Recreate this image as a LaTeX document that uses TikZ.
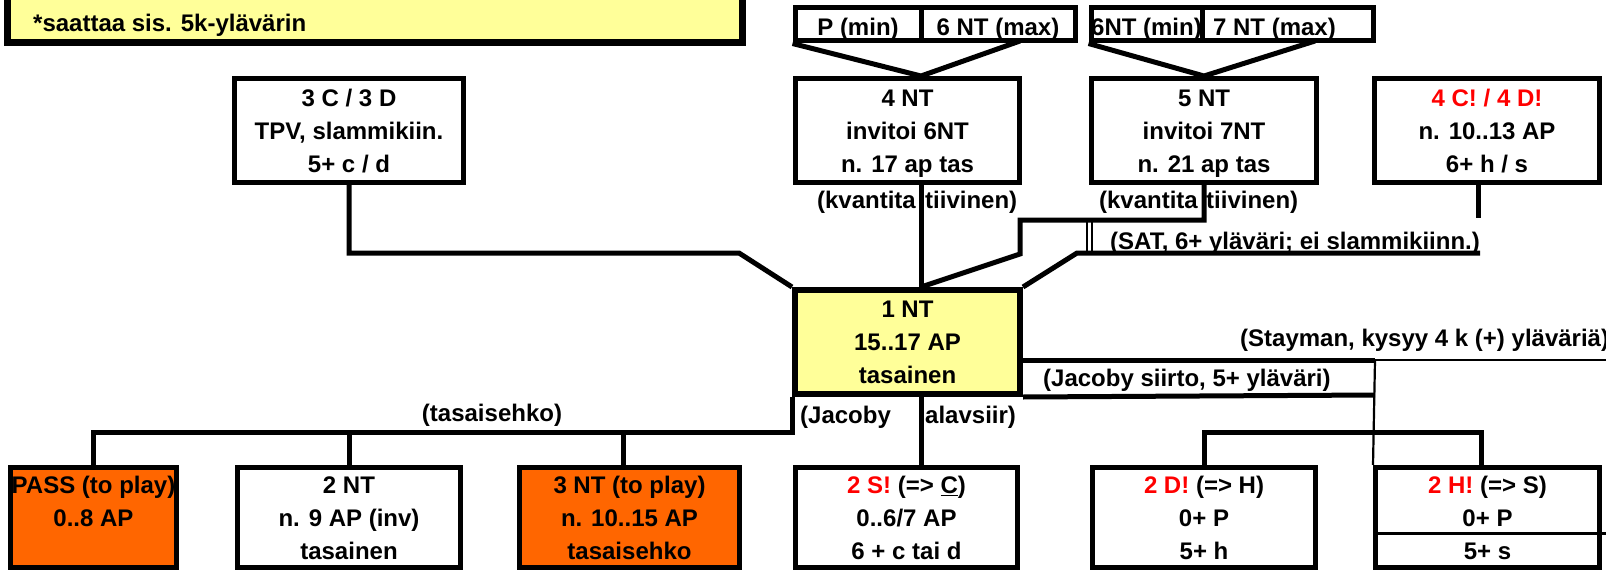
\documentclass[tikz,border=0pt]{standalone}
\usepackage{fontspec}
\setmainfont{Liberation Sans}
\usetikzlibrary{calc}
\definecolor{ylw}{HTML}{FFFF99}
\definecolor{org}{HTML}{FF6600}
\definecolor{rd}{HTML}{FF0000}
\newcommand\ls{\rule[-7.9pt]{0pt}{33pt}}
\newcommand\lt{\rule[-5pt]{0pt}{33pt}}
\begin{document}
\begin{tikzpicture}[x=1pt,y=-1pt,line join=miter,
  box/.style={draw,line width=5pt,inner sep=0pt,align=center,font=\bfseries\fontsize{24}{33}\selectfont},
  lbl/.style={inner sep=0pt,font=\bfseries\fontsize{24}{33}\selectfont},
  conn/.style={line width=5pt},
  thinl/.style={line width=1.8pt}]
\useasboundingbox (0,0) rectangle (1606,575);
\fill[white] (0,0) rectangle (1606,575);

% top-left note
\node[box,line width=5.5pt,fill=ylw,minimum width=736,minimum height=83] (tl) at (375,1.5) {};
\draw[thinl] ([shift={(5.5,5.5)}]tl.north west) rectangle ([shift={(-5.5,-5.5)}]tl.south east);
\node[lbl,anchor=base west] (tlt) at (33,32) {*saattaa sis. 5k-ylävärin};

% top cells
\node[box,minimum width=126,minimum height=33] (a1) at (858,24.5) {\lt P (min)};
\node[box,minimum width=154,minimum height=33] (a2) at (998,24.5) {\lt 6 NT (max)};
\node[box,minimum width=111,minimum height=33] (b1) at (1146.5,24.5) {\lt 6NT (min)};
\node[box,minimum width=171,minimum height=33] (b2) at (1287.5,24.5) {\lt\hspace*{-26pt}7 NT (max)};

% upper row
\node[box,minimum width=229,minimum height=104] (n3c) at (349,130.5) {\ls 3 C / 3 D\\\ls TPV, slammikiin.\\\ls 5+ c / d};
\node[box,minimum width=224,minimum height=104] (n4) at (907.5,130.5) {\ls 4 NT\\\ls invitoi 6NT\\\ls n. 17 ap tas};
\node[box,minimum width=225,minimum height=104] (n5) at (1204,130.5) {\ls 5 NT\\\ls invitoi 7NT\\\ls n. 21 ap tas};
\node[box,minimum width=225,minimum height=104] (n4c) at (1487,130.5) {\ls\textcolor{rd}{4 C! / 4 D!}\\\ls n. 10..13 AP\\\ls 6+ h / s};

% 1NT
\node[box,fill=ylw,minimum width=226,minimum height=105] (n1) at (907.5,342) {\ls 1 NT\\\ls 15..17 AP\\\ls tasainen};
\draw[thinl] ([shift={(5.5,5.5)}]n1.north west) rectangle ([shift={(-5.5,-5.5)}]n1.south east);

% bottom row
\node[box,fill=org,minimum width=166,minimum height=100] (pass) at (93.5,517.5) {\ls PASS (to play)\\\ls 0..8 AP\\\ls};
\node[box,minimum width=223,minimum height=100] (nt2) at (349,517.5) {\ls 2 NT\\\ls n. 9 AP (inv)\\\ls tasainen};
\node[box,fill=org,minimum width=220,minimum height=100] (nt3) at (629.5,517.5) {\ls 3 NT (to play)\\\ls n. 10..15 AP\\\ls tasaisehko};
\node[box,minimum width=222,minimum height=100] (s2) at (906.5,517.5) {\ls\textcolor{rd}{2 S!} (=> \underline{C})\\\ls 0..6/7 AP\\\ls 6 + c tai d};
\node[box,minimum width=223,minimum height=100] (d2) at (1204,517.5) {\ls\textcolor{rd}{2 D!} (=> H)\\\ls 0+ P\\\ls 5+ h};
\node[box,minimum width=224,minimum height=100] (h2) at (1487.5,517.5) {\ls\textcolor{rd}{2 H!} (=> S)\\\ls 0+ P\\\ls 5+ s};
\coordinate (hl) at (1606,533);
\draw[line width=3pt] (h2.west |- hl) -- (hl);

% coordinates
\coordinate (va) at (921,76);
\coordinate (vb) at (1204,76);
\coordinate (aR) at (1020,41);
\coordinate (bR) at (1315,41);
\coordinate (c3) at (739,253);
\coordinate (k5a) at (1020,220);
\coordinate (k5b) at (1020,254);
\coordinate (k4) at (1478,218);
\coordinate (sa) at (1077,253);
\coordinate (sb) at (1480,253);
\coordinate (st1) at (1375,360);
\coordinate (st2) at (1606,360);
\coordinate (jc) at (1375,395);
\coordinate (bh) at (1481,432);
\coordinate (lb) at (93.5,432);
\coordinate (d3) at (623,432);

% connectors top
\draw[conn] (a1.south west) -- (va) -- (aR);
\draw[conn] (b1.south west) -- (vb) -- (bR);
\draw[conn] (n4.south -| va) -- (n1.north -| va);
\draw[conn] (n3c.south) |- (c3) -- (n1.north west);
\draw[conn] (n5.south) |- (k5a) -- (k5b) -- (n1.north -| va);
\draw[conn] (n4c.south -| k4) -- (k4);
\draw[conn] (n1.north east) -- (sa) -- (sb);
\draw[thinl] ($(sa)+(10,0)$) -- ++(0,-31);
\draw[thinl] ($(sa)+(15,0)$) -- ++(0,-31);

% connectors right
\draw[conn] (n1.east |- st1) -- (st1);
\draw[line width=2.2pt] (st1) -- (st2);
\draw[conn] (n1.south east) -- (jc);
\draw[line width=2.2pt] (st1) -- (h2.north west);
\draw[conn] (d2.north) |- (bh) -- (bh |- h2.north);

% connectors bottom
\draw[conn] (n1.south -| va) -- (s2.north -| va);
\draw[conn] (n1.south west) |- (lb) -- (pass.north);
\draw[conn] (nt2.north |- lb) -- (nt2.north);
\draw[conn] (d3) -- (d3 |- nt3.north);

% labels
\node[lbl,anchor=base east] (kq1a) at (916,208) {(kvantita};
\node[lbl,anchor=base west] (kq1b) at (925,208) {tiivinen)};
\node[lbl,anchor=base east] (kq2a) at (1198,208) {(kvantita};
\node[lbl,anchor=base west] (kq2b) at (1206,208) {tiivinen)};
\node[lbl,anchor=base west] (sat) at (1110,249) {(SAT, 6+ yläväri; ei slammikiinn.)};
\node[lbl,anchor=base west] (stay) at (1240,346) {(Stayman, kysyy 4 k (+) yläväriä)};
\node[lbl,anchor=base west] (jac) at (1043,386) {(Jacoby siirto, 5+ yläväri)};
\node[lbl,anchor=base] (tas) at (492,421) {(tasaisehko)};
\node[lbl,anchor=base west] (jb1) at (800,423) {(Jacoby};
\node[lbl,anchor=base west] (jb2) at (925,423) {alavsiir)};
\end{tikzpicture}
\end{document}
